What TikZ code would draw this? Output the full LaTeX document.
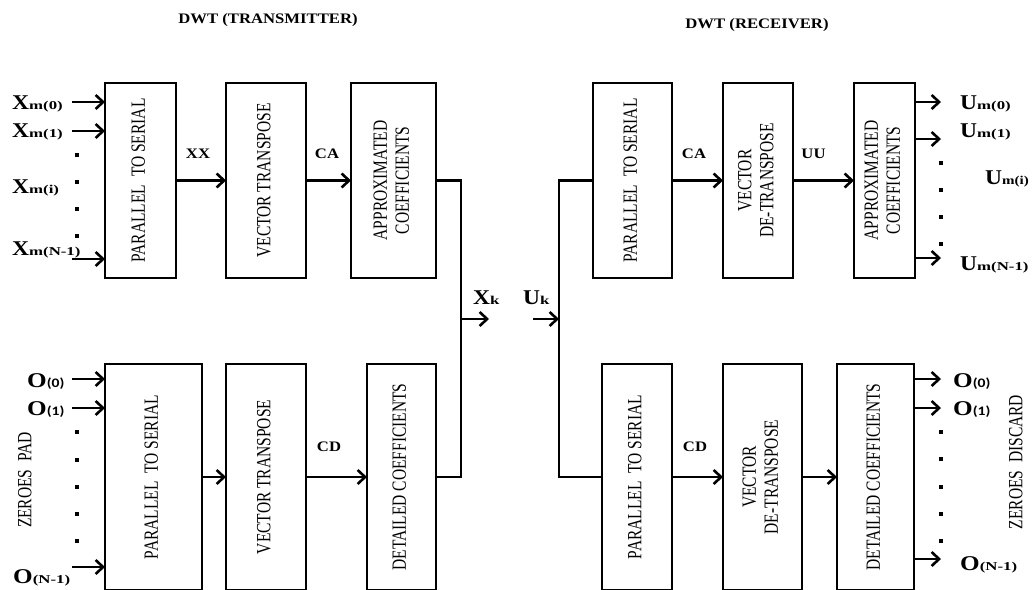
\documentclass[tikz,border=0pt]{standalone}
\usepackage{fontspec}
\setmainfont{Liberation Serif}
\newfontfamily\carl{Carlito}
\usetikzlibrary{arrows.meta}
\newcommand\vtx[1]{\scalebox{1.3}[1]{\rotatebox{90}{\fontsize{15.5}{17}\selectfont\begin{tabular}{@{}c@{}}#1\end{tabular}}}}
\newcommand\bgltr[1]{\scalebox{1.12}[1]{\fontsize{21}{21}\selectfont\bfseries #1}}
\newcommand\sbs[1]{\scalebox{1.4}[1]{\fontsize{12}{12}\selectfont\bfseries #1}}
\newcommand\sbc[1]{\scalebox{1.2}[1]{\fontsize{13}{13}\selectfont\carl\bfseries #1}}
\newcommand\smb[1]{\scalebox{1.15}[1]{\fontsize{14.5}{14.5}\selectfont\bfseries #1}}
\newcommand\bgo{\scalebox{1.2}[1]{\fontsize{21}{21}\selectfont\bfseries O}}
\begin{document}
\begin{tikzpicture}[x=1pt,y=-1pt,
  box/.style={draw,line width=2.6pt,inner sep=0pt,outer sep=0pt},
  ln/.style={line width=2.6pt},
  arr/.style={line width=2.6pt,-{Straight Barb[length=7.5pt,width=14pt]}},
  dotm/.style={rectangle,fill,inner sep=0pt,minimum size=3.2pt},
  lab/.style={anchor=base west,inner sep=0pt},
  clab/.style={anchor=base,inner sep=0pt}]
\clip (0,0) rectangle (1032,589);
\fill[white] (0,0) rectangle (1032,589);
% titles
\node[clab] (tt) at (268,23) {\smb{DWT (TRANSMITTER)}};
\node[clab] (tr) at (757,28) {\smb{DWT (RECEIVER)}};
% transmitter boxes
\node[box,minimum width=71,minimum height=195] (t1) at (140.5,180.5) {\vtx{PARALLEL\ \ TO SERIAL}};
\node[box,minimum width=80,minimum height=195] (t2) at (266,180.5) {\vtx{VECTOR TRANSPOSE}};
\node[box,minimum width=85,minimum height=195] (t3) at (393.5,180.5) {\vtx{APPROXIMATED\\COEFFICIENTS}};
\node[box,minimum width=97,minimum height=226] (b1) at (153.5,477) {\vtx{PARALLEL\ \ TO SERIAL}};
\node[box,minimum width=80,minimum height=226] (b2) at (266,477) {\vtx{VECTOR TRANSPOSE}};
\node[box,minimum width=69,minimum height=226] (b3) at (401.5,477) {\vtx{DETAILED COEFFICIENTS}};
% receiver boxes
\node[box,minimum width=79,minimum height=195] (r1) at (632.5,180.5) {\vtx{PARALLEL\ \ TO SERIAL}};
\node[box,minimum width=70,minimum height=195] (r2) at (758,180.5) {\vtx{VECTOR\\DE-TRANSPOSE}};
\node[box,minimum width=61,minimum height=195] (r3) at (884.5,180.5) {\vtx{APPROXIMATED\\COEFFICIENTS}};
\node[box,minimum width=70,minimum height=226] (rb1) at (637,477) {\vtx{PARALLEL\ \ TO SERIAL}};
\node[box,minimum width=79,minimum height=226] (rb2) at (762.5,477) {\vtx{VECTOR\\DE-TRANSPOSE}};
\node[box,minimum width=77,minimum height=226] (rb3) at (875.5,477) {\vtx{DETAILED COEFFICIENTS}};
% side texts
\node (zp) at (27,480) {\vtx{ZEROES\ \ PAD}};
\node (zd) at (1018,462) {\vtx{ZEROES\ \ DISCARD}};
% transmitter inputs
\node[lab] (xm0) at (12,109) {\bgltr{X}\sbs{m(0)}};
\node[lab] (xm1) at (12,137) {\bgltr{X}\sbs{m(1)}};
\node[lab] (xmi) at (12,193) {\bgltr{X}\sbs{m(i)}};
\node[lab] (xmn) at (12,255) {\bgltr{X}\sbs{m(N-1)}};
\coordinate (ix0) at (72,102);
\coordinate (ix1) at (72,131);
\coordinate (ixn) at (72,259);
\draw[arr] (ix0) -- (ix0 -| t1.west);
\draw[arr] (ix1) -- (ix1 -| t1.west);
\draw[arr] (ixn) -- (ixn -| t1.west);
\foreach \yy [count=\k] in {155,182,209,236} \node[dotm] (dx\k) at (77,\yy) {};
\node[lab] (o0) at (27,387) {\bgo\sbc{(0)}};
\node[lab] (o1) at (27,415) {\bgo\sbc{(1)}};
\node[lab] (on) at (13,583) {\bgo\sbs{(N-1)}};
\coordinate (io0) at (72,379);
\coordinate (io1) at (72,408);
\coordinate (ion) at (72,567);
\draw[arr] (io0) -- (io0 -| b1.west);
\draw[arr] (io1) -- (io1 -| b1.west);
\draw[arr] (ion) -- (ion -| b1.west);
\foreach \yy [count=\k] in {432,460,487,514,541} \node[dotm] (do\k) at (77,\yy) {};
% transmitter chain
\draw[arr] (t1.east) -- (t2.west);
\draw[arr] (t2.east) -- (t3.west);
\draw[arr] (b1.east) -- (b2.west);
\draw[arr] (b2.east) -- (b3.west);
\node[clab] (lxx) at (198,158) {\smb{XX}};
\node[clab] (lca) at (327,158) {\smb{CA}};
\node[clab] (lcd) at (329,451) {\smb{CD}};
\coordinate (xj) at (461,319);
\coordinate (xk) at (489,319);
\draw[ln] (t3.east) -| (xj) |- (b3.east);
\draw[arr] (xj) -- (xk);
\node[lab] (lxk) at (473,304) {\bgltr{X}\sbs{k}};
% receiver
\coordinate (uj) at (559,319);
\coordinate (uk) at (533,319);
\draw[arr] (uk) -- (uj);
\draw[ln] (r1.west) -| (uj) |- (rb1.west);
\node[lab] (luk) at (523,304) {\bgltr{U}\sbs{k}};
\draw[arr] (r1.east) -- (r2.west);
\draw[arr] (r2.east) -- (r3.west);
\draw[arr] (rb1.east) -- (rb2.west);
\draw[arr] (rb2.east) -- (rb3.west);
\node[clab] (rca) at (694,158) {\smb{CA}};
\node[clab] (ruu) at (813.5,158) {\smb{UU}};
\node[clab] (rcd) at (695,451) {\smb{CD}};
% receiver outputs
\coordinate (ou0) at (941,102);
\coordinate (ou1) at (941,139);
\coordinate (oun) at (941,258);
\draw[arr] (ou0 -| r3.east) -- (ou0);
\draw[arr] (ou1 -| r3.east) -- (ou1);
\draw[arr] (oun -| r3.east) -- (oun);
\foreach \yy [count=\k] in {163,190,217,244} \node[dotm] (du\k) at (941,\yy) {};
\node[lab] (um0) at (960,109) {\bgltr{U}\sbs{m(0)}};
\node[lab] (um1) at (960,137) {\bgltr{U}\sbs{m(1)}};
\node[anchor=base east,inner sep=0pt] (umi) at (1029,184) {\bgltr{U}\scalebox{1.25}[1]{\fontsize{12}{12}\selectfont\bfseries m(i)}};
\node[lab] (umn) at (960,270) {\bgltr{U}\sbs{m(N-1)}};
\coordinate (oo0) at (941,379);
\coordinate (oo1) at (941,408);
\coordinate (oon) at (941,559);
\draw[arr] (oo0 -| rb3.east) -- (oo0);
\draw[arr] (oo1 -| rb3.east) -- (oo1);
\draw[arr] (oon -| rb3.east) -- (oon);
\foreach \yy [count=\k] in {432,459,487,514,541} \node[dotm] (dr\k) at (941,\yy) {};
\node[lab] (ro0) at (953,387) {\bgo\sbc{(0)}};
\node[lab] (ro1) at (953,415) {\bgo\sbc{(1)}};
\node[lab] (ron) at (960,570) {\bgo\sbs{(N-1)}};
\end{tikzpicture}
\end{document}
